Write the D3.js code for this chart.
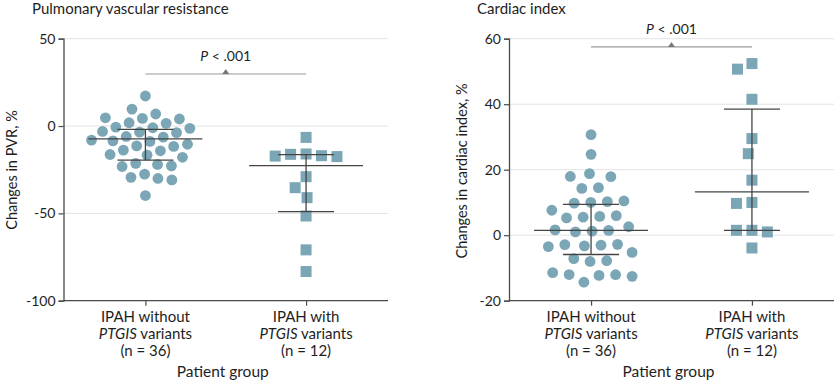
<!DOCTYPE html>
<html>
<head>
<meta charset="utf-8">
<script src="https://cdn.jsdelivr.net/npm/d3@7"></script>
<style>
  html, body { margin: 0; padding: 0; background: #fff; }
  svg { display: block; font-family: Lato, "Open Sans", sans-serif; }
</style>
</head>
<body>
<svg id="chart" width="835" height="383"></svg>
<script>
// ---------------- DATA ----------------
const categories = ["without", "with"];
const categoryLine1 = ["IPAH without", "IPAH with"];
const categoryN = ["(n = 36)", "(n = 12)"];

// Pulmonary vascular resistance, % change
const pvrWithout = [17.2, 7.0, 5.3, 2.5, 2.0, 1.9, 1.9, -0.9, -1.5, -1.6, -2.6, -3.7, -3.7, -4.9,
  -5.4, -5.4, -6.3, -6.8, -8.0, -9.0, -10.9, -12.3, -13.0, -14.1, -14.4, -14.6, -15.0,
  -21.3, -21.6, -22.3, -23.6, -27.6, -27.9, -28.7, -30.7, -39.8];
const pvrWith = [-6.5, -16.0, -16.2, -17.0, -17.2, -17.5, -29.0, -35.3, -41.0, -51.5, -70.9, -83.3];
// median, upper quartile, lower quartile
const pvrMedian = [-7.4, -22.7];
const pvrUpper = [-1.9, -16.4];
const pvrLower = [-19.5, -49.0];
const pvrTicks = [-100, -50, 0, 50];
const pvrBracket = 29.8;

// Cardiac index, % change
const ciWithout = [30.7, 24.7, 18.6, 17.6, 17.6, 14.4, 13.9, 9.9, 9.9, 9.0, 8.5, 7.3, 7.3, 5.8, 5.6,
  5.0, 3.1, 2.2, 1.0, 0.7, 0.5, -1.7, -2.7, -2.8, -3.1, -3.4, -4.9, -5.9, -7.8, -8.5,
  -11.5, -11.7, -12.0, -12.4, -12.5, -13.4];
const ciWith = [52.4, 50.7, 41.5, 29.5, 24.9, 16.8, 10.0, 9.7, 1.5, 1.5, 1.0, -3.9];
const ciMedian = [1.5, 13.2];
const ciUpper = [9.4, 38.5];
const ciLower = [-5.9, 1.5];
const ciTicks = [-20, 0, 20, 40, 60];
const ciBracket = 57.5;

const pText = "< .001";

// ---------------- STYLE ----------------
const dotColor = "#7ba6b6";
const axisColor = "#4a4a4a";
const gridColor = "#e3e3e3";
const barColor = "#444";
const bracketColor = "#9a9a9a";
const textColor = "#1e1e1e";

const svg = d3.select("#chart");

// greedy beeswarm (used for squares)
function swarm(values, y, cx, d) {
  const order = d3.range(values.length).sort((a, b) => d3.descending(values[a], values[b]));
  const placed = [];
  const xs = new Array(values.length);
  for (const i of order) {
    const yy = y(values[i]);
    const cands = [0];
    for (const p of placed) {
      const dy = Math.abs(p.y - yy);
      if (dy < d) {
        const dx = Math.sqrt(d * d - dy * dy);
        cands.push(p.x + dx, p.x - dx);
      }
    }
    cands.sort((a, b) => Math.abs(a) - Math.abs(b) || a - b);
    let best = 0;
    for (const c of cands) {
      if (placed.every(p => (p.x - c) ** 2 + (p.y - yy) ** 2 >= d * d - 0.01)) { best = c; break; }
    }
    placed.push({ x: best, y: yy });
    xs[i] = cx + best;
  }
  return xs;
}

// force-based swarm (used for circles)
function forceSwarm(values, y, cx, R) {
  const nodes = values.map(v => ({ ty: y(v) }));
  const sim = d3.forceSimulation(nodes)
    .force("x", d3.forceX(cx).strength(0.05))
    .force("y", d3.forceY(d => d.ty).strength(1))
    .force("c", d3.forceCollide(R).strength(0.8).iterations(2))
    .alphaDecay(0.01)
    .stop();
  // start every node at its value, spread a little around the category centre
  nodes.forEach(n => { n.x = cx + n.x * 0.3; n.y = n.ty; n.vx = 0; n.vy = 0; });
  for (let i = 0; i < 600; i++) sim.tick();
  return nodes;
}

function panel(opts) {
  const g = svg.append("g");
  const x = d3.scalePoint().domain(categories).range([opts.left, opts.right]).padding(0.51);
  const y = d3.scaleLinear().domain(opts.domain).range([300.7, 38.7]);

  // title
  g.append("text").attr("x", opts.titleX).attr("y", 14)
    .attr("font-size", 15).attr("fill", textColor).text(opts.title);

  // grid
  g.append("g").selectAll("line").data(opts.ticks.slice(1)).join("line")
    .attr("x1", opts.left).attr("x2", opts.right)
    .attr("y1", d => y(d)).attr("y2", d => y(d))
    .attr("stroke", gridColor).attr("stroke-width", 1);

  // y axis
  const ya = g.append("g").attr("transform", `translate(${opts.left},0)`)
    .call(d3.axisLeft(y).tickValues(opts.ticks).tickSize(5).tickPadding(3).tickFormat(d => String(d)));
  ya.select(".domain").attr("stroke", axisColor).attr("stroke-width", 1.3);
  ya.selectAll(".tick line").attr("stroke", axisColor).attr("stroke-width", 1.2);
  ya.selectAll(".tick text").attr("font-size", 14).attr("fill", textColor).attr("font-family", "Lato, sans-serif");

  // x axis
  const xa = g.append("g").attr("transform", `translate(0,${y(opts.domain[0])})`)
    .call(d3.axisBottom(x).tickSize(5).tickFormat(""));
  xa.select(".domain").attr("stroke", axisColor).attr("stroke-width", 1.3)
    .attr("d", `M${opts.left},0H${opts.right}`);
  xa.selectAll(".tick line").attr("stroke", axisColor).attr("stroke-width", 1.2);

  // category labels
  categories.forEach((c, i) => {
    const t = g.append("text").attr("x", x(c)).attr("text-anchor", "middle")
      .attr("font-size", 15).attr("fill", textColor);
    t.append("tspan").attr("x", x(c)).attr("y", 321.5).text(categoryLine1[i]);
    const l2 = t.append("tspan").attr("x", x(c)).attr("y", 338.8);
    l2.append("tspan").attr("font-style", "italic").text("PTGIS");
    l2.append("tspan").text(" variants");
    t.append("tspan").attr("x", x(c)).attr("y", 356).text(categoryN[i]);
  });

  g.append("text").attr("x", (x(categories[0]) + x(categories[1])) / 2 - 3).attr("y", 377)
    .attr("text-anchor", "middle").attr("font-size", 15.5).attr("fill", textColor).text("Patient group");

  // y label
  g.append("text")
    .attr("transform", `translate(${opts.ylabX},${opts.ylabY}) rotate(-90)`)
    .attr("text-anchor", "middle").attr("font-size", 14.5).attr("fill", textColor).text(opts.ylabel);

  // points: circles
  const nodes = forceSwarm(opts.g0, y, x(categories[0]), opts.R);
  g.append("g").selectAll("circle").data(nodes).join("circle")
    .attr("cx", d => d.x).attr("cy", d => d.y).attr("r", 5.4)
    .attr("fill", dotColor);

  // points: squares
  const s = 11;
  const xs1 = swarm(opts.g1, y, x(categories[1]), 15.5);
  g.append("g").selectAll("rect").data(opts.g1).join("rect")
    .attr("x", (d, i) => xs1[i] - s / 2).attr("y", d => y(d) - s / 2)
    .attr("width", s).attr("height", s).attr("fill", dotColor);

  // median + IQR bars
  categories.forEach((c, i) => {
    const cx = x(c);
    const bg = g.append("g").attr("stroke", barColor).attr("stroke-width", 1.3);
    bg.append("line").attr("x1", cx).attr("x2", cx).attr("y1", y(opts.upper[i])).attr("y2", y(opts.lower[i]));
    bg.append("line").attr("x1", cx - 57).attr("x2", cx + 57).attr("y1", y(opts.median[i])).attr("y2", y(opts.median[i]));
    bg.append("line").attr("x1", cx - 28).attr("x2", cx + 28).attr("y1", y(opts.upper[i])).attr("y2", y(opts.upper[i]));
    bg.append("line").attr("x1", cx - 28).attr("x2", cx + 28).attr("y1", y(opts.lower[i])).attr("y2", y(opts.lower[i]));
  });

  // bracket
  const by = y(opts.bracket);
  const x0 = x(categories[0]), x1 = x(categories[1]), xm = (x0 + x1) / 2;
  g.append("line").attr("x1", x0).attr("x2", x1).attr("y1", by).attr("y2", by)
    .attr("stroke", bracketColor).attr("stroke-width", 1.2);
  g.append("path").attr("d", `M${xm - 3.5},${by}L${xm},${by - 5}L${xm + 3.5},${by}Z`).attr("fill", "#777");
  const pt = g.append("text").attr("x", xm).attr("y", by - 13).attr("text-anchor", "middle")
    .attr("font-size", 14).attr("fill", textColor);
  pt.append("tspan").attr("font-style", "italic").text("P");
  pt.append("tspan").text(" " + pText);
}

panel({
  left: 63.5, right: 388, domain: [-100, 50], ticks: pvrTicks,
  title: "Pulmonary vascular resistance", titleX: 32,
  ylabel: "Changes in PVR, %", ylabX: 17, ylabY: 170, R: 7,
  g0: pvrWithout, g1: pvrWith, median: pvrMedian, upper: pvrUpper, lower: pvrLower,
  bracket: pvrBracket
});
panel({
  left: 509, right: 834, domain: [-20, 60], ticks: ciTicks,
  title: "Cardiac index", titleX: 477,
  ylabel: "Changes in cardiac index, %", ylabX: 467, ylabY: 171, R: 8.3,
  g0: ciWithout, g1: ciWith, median: ciMedian, upper: ciUpper, lower: ciLower,
  bracket: ciBracket
});
</script>
</body>
</html>
